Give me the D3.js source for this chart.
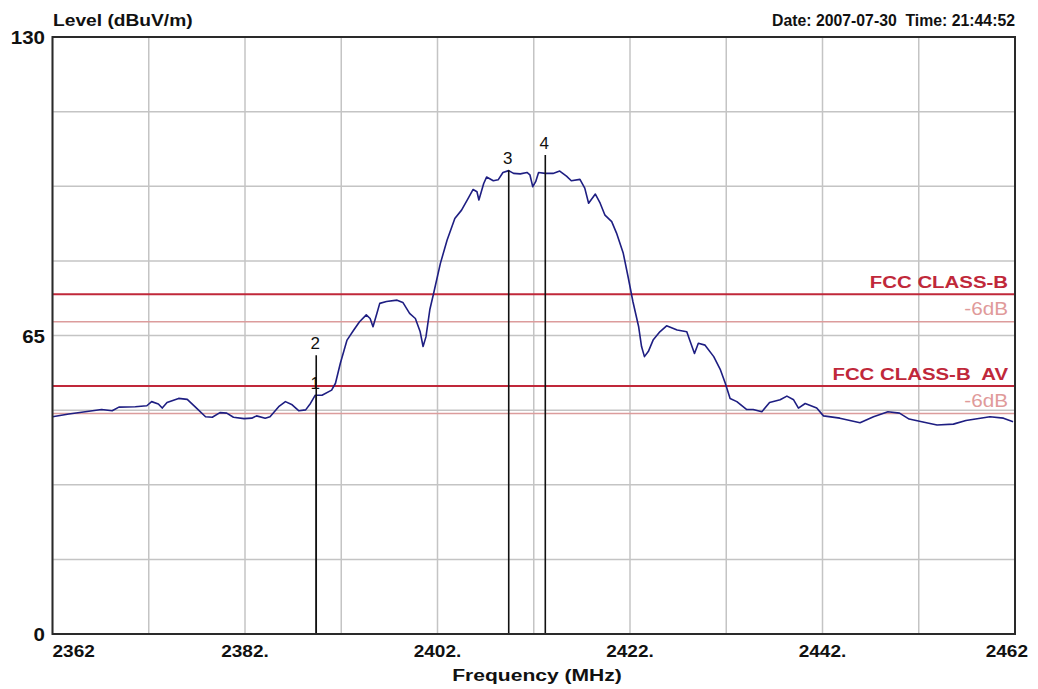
<!DOCTYPE html>
<html><head><meta charset="utf-8">
<script src="https://cdn.jsdelivr.net/npm/d3@7"></script>
<style>body{margin:0;background:#fff}svg{display:block}</style>
</head><body>
<svg id="c" width="1038" height="689"></svg>
<script>
// ---- data ----
const freqs = [2362.0,2363.7,2365.4,2367.1,2368.2,2368.9,2370.6,2371.8,2372.3,2373.0,2373.4,2373.9,2375.1,2376.0,2376.8,2377.9,2378.6,2379.4,2380.1,2380.8,2381.9,2382.7,2383.2,2384.1,2384.6,2385.5,2386.2,2386.9,2387.6,2388.3,2388.8,2389.3,2390.0,2391.0,2391.4,2391.9,2392.6,2393.3,2393.9,2394.6,2395.0,2395.3,2395.7,2396.0,2396.7,2397.8,2398.4,2399.1,2399.7,2400.2,2400.5,2400.8,2401.2,2401.6,2402.3,2403.0,2403.8,2404.5,2405.2,2405.7,2406.1,2406.3,2406.8,2407.1,2407.8,2408.3,2408.8,2409.4,2409.9,2410.6,2411.3,2411.6,2411.9,2412.2,2412.5,2413.2,2414.0,2414.7,2415.4,2415.9,2416.8,2417.3,2417.7,2418.4,2418.9,2419.4,2420.1,2420.6,2421.3,2421.8,2422.3,2422.9,2423.2,2423.5,2423.9,2424.4,2425.1,2425.8,2426.9,2427.9,2428.2,2428.7,2429.1,2429.8,2430.7,2431.4,2431.9,2432.4,2433.1,2434.1,2434.8,2435.7,2436.5,2437.6,2438.3,2439.0,2439.5,2440.2,2441.4,2442.1,2443.8,2445.9,2447.3,2448.8,2450.0,2451.0,2452.8,2453.9,2455.6,2456.9,2459.4,2460.8,2461.8];
const levels = [47.3,47.9,48.4,48.9,48.6,49.4,49.5,49.7,50.6,50.1,49.2,50.4,51.3,51.1,49.5,47.3,47.2,48.2,48.1,47.2,46.9,47.0,47.5,47.0,47.3,49.5,50.6,49.9,48.6,48.8,50.2,52.0,52.0,53.1,54.6,58.9,64.0,66.2,68.0,69.5,68.7,66.9,69.8,72.0,72.4,72.7,72.2,69.8,68.7,65.8,62.6,64.7,70.6,74.2,80.7,85.8,90.5,92.3,94.9,96.8,96.3,94.5,98.1,99.5,98.7,98.9,100.5,100.9,100.3,100.2,100.5,100.0,97.4,98.5,100.5,100.3,100.3,100.8,99.7,98.7,99.0,97.1,93.8,95.8,93.8,91.2,89.8,87.3,82.9,77.8,72.4,66.9,62.6,60.4,61.5,64.0,65.8,67.1,66.2,65.8,64.0,61.1,63.3,62.9,60.4,57.5,54.6,51.3,50.6,48.9,48.9,48.4,50.4,51.0,51.8,51.0,49.2,50.2,49.2,47.5,47.0,46.0,47.3,48.4,48.1,46.8,46.0,45.5,45.7,46.5,47.3,47.0,46.2];

const markerLabels = ["1","2","3","4"];
const markerFreqs  = [2389.4, 2389.4, 2409.4, 2413.2];
const markerLevels = [52.0, 60.7, 101.0, 104.3];

const limitNames  = ["FCC CLASS-B", "-6dB", "FCC CLASS-B  AV", "-6dB"];
const limitValues = [74, 68, 54, 48];
const limitMajor  = [true, false, true, false];

const xTickValues = [2362, 2382, 2402, 2422, 2442, 2462];
const xTickLabels = ["2362", "2382.", "2402.", "2422.", "2442.", "2462"];
const yTickValues = [0, 65, 130];
const yTickLabels = ["0", "65", "130"];

// ---- layout ----
const L = 52.5, R = 1015, T = 37, B = 634;
const svg = d3.select("#c");
const x = d3.scaleLinear().domain([2362, 2462]).range([L, R]);
const y = d3.scaleLinear().domain([0, 130]).range([B, T]);
const FONT = "'Liberation Sans', Arial, sans-serif";

function txt(px, py, s, o) {
  o = o || {};
  const g = svg.append("g").attr("transform", `translate(${px},${py}) scale(${o.sx || 1},1)`);
  return g.append("text").text(s)
    .attr("font-family", FONT)
    .attr("font-size", o.size || 16)
    .attr("font-weight", o.bold === false ? "normal" : "bold")
    .attr("text-anchor", o.anchor || "start")
    .attr("fill", o.fill || "#111")
    .style("white-space", "pre");
}

// grid
const gridX = d3.range(2362, 2462.01, 10);
const gridY = d3.range(0, 130.01, 16.25);
svg.append("g").selectAll("line").data(gridX).join("line")
  .attr("x1", d => x(d)).attr("x2", d => x(d)).attr("y1", T).attr("y2", B)
  .attr("stroke", "#c4c4c4").attr("stroke-width", 1.5);
svg.append("g").selectAll("line").data(gridY).join("line")
  .attr("x1", L).attr("x2", R).attr("y1", d => y(d)).attr("y2", d => y(d))
  .attr("stroke", "#c4c4c4").attr("stroke-width", 1.5);

// limit lines
svg.append("g").selectAll("line").data(limitValues).join("line")
  .attr("x1", L).attr("x2", R).attr("y1", d => y(d)).attr("y2", d => y(d))
  .attr("stroke", (d, i) => limitMajor[i] ? "#c0283a" : "#dc9c9c")
  .attr("stroke-width", (d, i) => limitMajor[i] ? 2 : 1.5);
limitValues.forEach((v, i) => {
  if (limitMajor[i]) txt(1008, y(v) - 6, limitNames[i], {size: 17, sx: 1.2, anchor: "end", fill: "#c0283a"});
  else txt(1008, y(v) - 7, limitNames[i], {size: 18, sx: 1.15, anchor: "end", fill: "#e09a9a", bold: false});
});

// trace
const pts = freqs.map((f, i) => [f, levels[i]]);
svg.append("path").datum(pts)
  .attr("d", d3.line().x(d => x(d[0])).y(d => y(d[1])))
  .attr("fill", "none").attr("stroke", "#1e1e82").attr("stroke-width", 1.6)
  .attr("stroke-linejoin", "round");

// markers
markerFreqs.forEach((f, i) => {
  svg.append("line").attr("x1", x(f)).attr("x2", x(f)).attr("y1", B).attr("y2", y(markerLevels[i]))
    .attr("stroke", "#111").attr("stroke-width", 1.6);
  txt(x(f) - 1, y(markerLevels[i]) - 6, markerLabels[i], {size: 17, anchor: "middle", bold: false, fill: "#111"});
});

// frame
svg.append("rect").attr("x", L).attr("y", T).attr("width", R - L).attr("height", B - T)
  .attr("fill", "none").attr("stroke", "#2a2a2a").attr("stroke-width", 2);

// axis labels
xTickValues.forEach((v, i) => {
  const last = i === xTickValues.length - 1, first = i === 0;
  txt(first ? L : last ? 1028 : x(v), 657, xTickLabels[i],
      {size: 17, sx: 1.12, anchor: first ? "start" : last ? "end" : "middle"});
});
yTickValues.forEach((v, i) => {
  txt(45, y(v) + 7, yTickLabels[i], {size: 19, sx: 1.08, anchor: "end"});
});
txt(537, 681, "Frequency (MHz)", {size: 17, sx: 1.24, anchor: "middle"});
txt(53, 26, "Level (dBuV/m)", {size: 16, sx: 1.2, anchor: "start"});
txt(1015, 26, "Date: 2007-07-30  Time: 21:44:52", {size: 17, sx: 0.93, anchor: "end"});
</script>
</body></html>
